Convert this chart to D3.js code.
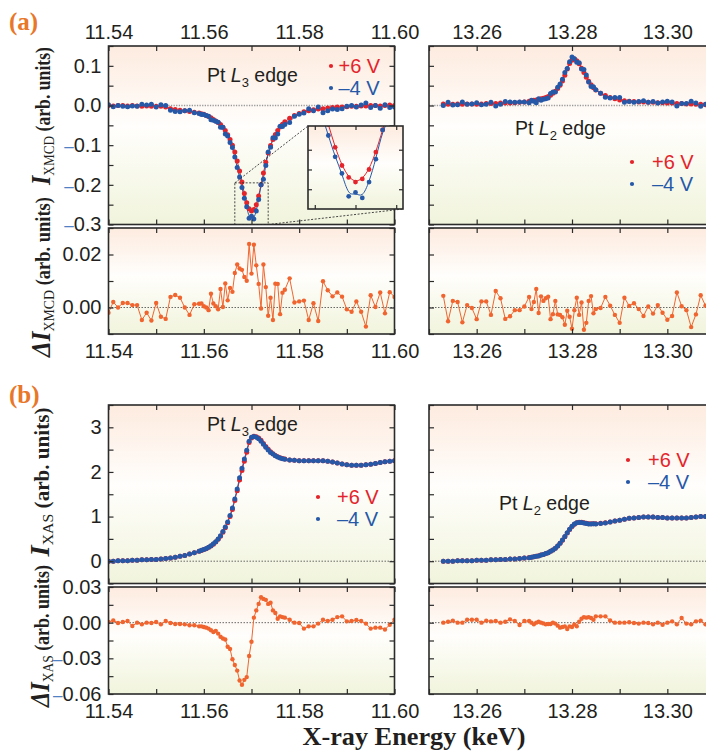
<!DOCTYPE html>
<html>
<head>
<meta charset="utf-8">
<script src="https://cdn.jsdelivr.net/npm/d3@7"></script>
<style>
  body { margin: 0; background: #fff; overflow: hidden; }
  svg { display: block; }
</style>
</head>
<body>
<script>
// ---- data ----
// energy grids (keV), shared by XMCD / XAS / difference series
const energyL3 = [11.540,11.541,11.542,11.543,11.544,11.545,11.546,11.547,11.548,11.549,11.550,11.551,11.552,11.553,11.554,11.555,11.556,11.557,11.558,11.559,
  11.5595,11.560,11.5605,11.561,11.5615,11.562,11.5625,11.563,11.5635,11.564,11.5645,11.565,11.5655,11.566,11.5665,11.567,11.5675,11.568,11.5685,11.569,
  11.5695,11.570,11.5705,11.571,11.5715,11.572,11.5725,11.573,11.5735,11.574,11.5745,11.575,11.5755,11.576,11.5765,11.577,
  11.578,11.579,11.580,11.581,11.582,11.583,11.584,11.585,11.586,11.587,11.588,11.589,11.590,11.591,11.592,11.593,11.594,11.595,11.596,11.597,11.598,11.599,11.600];
const energyL2 = [13.253,13.254,13.255,13.256,13.257,13.258,13.259,13.260,13.261,13.262,13.263,13.264,13.265,13.266,13.267,13.268,13.269,13.270,
  13.271,13.2715,13.272,13.2725,13.273,13.2735,13.274,13.2745,13.275,13.2755,13.276,13.2765,13.277,13.2775,13.278,13.2785,13.279,13.2795,13.280,13.2805,
  13.281,13.2815,13.282,13.2825,13.283,13.2835,13.284,13.2845,13.285,
  13.286,13.287,13.288,13.289,13.290,13.291,13.292,13.293,13.294,13.295,13.296,13.297,13.298,13.299,13.300,13.301,13.302,13.303,13.304,13.305,13.306,13.307,13.308];

// (a) XMCD, L3 edge
const xmcdL3Plus6 = [0.000,-0.001,0.000,0.000,-0.001,0.000,-0.001,-0.002,-0.001,-0.002,-0.002,-0.002,-0.004,-0.008,-0.010,-0.012,-0.013,-0.015,-0.017,-0.019,
  -0.021,-0.022,-0.025,-0.028,-0.031,-0.035,-0.039,-0.043,-0.048,-0.055,-0.063,-0.074,-0.086,-0.100,-0.117,-0.140,-0.165,-0.193,-0.222,-0.245,
  -0.260,-0.266,-0.262,-0.250,-0.228,-0.200,-0.170,-0.143,-0.120,-0.101,-0.086,-0.073,-0.063,-0.054,-0.047,-0.041,
  -0.032,-0.025,-0.020,-0.016,-0.013,-0.011,-0.009,-0.008,-0.006,-0.005,-0.004,-0.004,-0.003,-0.002,-0.002,-0.001,-0.001,0.000,0.000,-0.001,0.000,0.001,0.000];
const xmcdL3Minus4 = [0.002,-0.003,0.000,-0.002,-0.003,-0.001,-0.002,0.003,0.001,0.003,-0.004,0.002,0.000,-0.012,-0.015,-0.016,-0.013,-0.012,-0.018,-0.020,
  -0.023,-0.023,-0.025,-0.027,-0.036,-0.037,-0.040,-0.042,-0.055,-0.055,-0.072,-0.077,-0.093,-0.106,-0.130,-0.156,-0.180,-0.207,-0.234,-0.255,
  -0.284,-0.279,-0.286,-0.266,-0.237,-0.200,-0.186,-0.151,-0.117,-0.105,-0.081,-0.082,-0.072,-0.052,-0.053,-0.048,
  -0.043,-0.027,-0.022,-0.019,-0.008,-0.013,-0.004,-0.018,-0.013,-0.009,-0.010,-0.008,-0.002,0.000,-0.004,0.001,0.006,-0.005,0.000,-0.007,0.002,-0.005,-0.004];
const dXmcdL3 = [-0.0020,0.0021,0.0000,0.0017,0.0017,0.0009,0.0009,-0.0047,-0.0020,-0.0049,0.0017,-0.0035,-0.0043,0.0040,0.0047,0.0037,0.0000,-0.0028,0.0012,0.0014,
  0.0015,0.0005,0.0000,-0.0010,0.0052,0.0015,0.0005,-0.0007,0.0070,0.0002,0.0091,0.0027,0.0074,0.0059,0.0130,0.0162,0.0147,0.0142,0.0115,0.0101,
  0.0240,0.0128,0.0237,0.0159,0.0089,-0.0004,0.0162,0.0077,-0.0031,0.0037,-0.0047,0.0090,0.0089,-0.0025,0.0056,0.0067,
  0.0110,0.0019,0.0023,0.0026,-0.0047,0.0016,-0.0051,0.0099,0.0065,0.0042,0.0057,0.0041,-0.0007,-0.0016,0.0023,-0.0016,-0.0072,0.0046,0.0002,0.0057,-0.0022,0.0058,0.0040];

// (a) XMCD, L2 edge
const xmcdL2Plus6 = [0.004,0.003,0.003,0.004,0.003,0.004,0.004,0.003,0.004,0.005,0.005,0.005,0.006,0.006,0.006,0.007,0.008,0.009,
  0.011,0.012,0.013,0.014,0.015,0.017,0.018,0.020,0.023,0.026,0.031,0.036,0.043,0.051,0.062,0.076,0.092,0.106,0.114,0.117,0.113,0.105,0.094,0.083,0.071,0.061,0.052,0.045,0.039,
  0.031,0.025,0.020,0.017,0.014,0.012,0.011,0.010,0.009,0.009,0.008,0.008,0.007,0.007,0.006,0.006,0.005,0.005,0.004,0.004,0.003,0.003,0.002];
const xmcdL2Minus4 = [0.000,0.008,0.001,0.002,0.009,0.003,0.004,0.007,0.002,0.003,0.008,-0.001,0.003,0.010,0.009,0.008,0.009,0.009,
  0.007,0.013,0.011,0.007,0.017,0.013,0.016,0.017,0.019,0.030,0.034,0.034,0.046,0.054,0.066,0.083,0.093,0.110,0.122,0.118,0.109,0.108,0.092,0.091,0.077,0.059,0.048,0.047,0.040,
  0.031,0.021,0.019,0.020,0.020,0.008,0.010,0.008,0.010,0.012,0.008,0.010,0.006,0.009,0.011,0.009,-0.001,0.005,0.005,0.011,0.006,-0.002,0.003];
const dXmcdL2 = [0.0044,-0.0052,0.0025,0.0021,-0.0056,0.0009,-0.0002,-0.0044,0.0023,0.0023,-0.0028,0.0062,0.0035,-0.0043,-0.0033,-0.0010,-0.0010,0.0004,
  0.0040,-0.0006,0.0021,0.0070,-0.0021,0.0042,0.0025,0.0035,0.0041,-0.0044,-0.0025,0.0025,-0.0026,-0.0028,-0.0037,-0.0065,-0.0012,-0.0035,-0.0080,-0.0010,0.0037,-0.0028,0.0019,-0.0084,-0.0058,0.0025,0.0043,-0.0022,-0.0006,
  -0.0002,0.0040,0.0007,-0.0028,-0.0058,0.0037,0.0006,0.0016,-0.0006,-0.0032,0.0004,-0.0023,0.0009,-0.0020,-0.0046,-0.0032,0.0057,0.0005,-0.0010,-0.0074,-0.0026,0.0046,0.0007];

// (b) XAS, L3 edge
const xasL3Plus6 = [0.00,0.00,0.01,0.01,0.01,0.02,0.02,0.03,0.03,0.04,0.04,0.05,0.06,0.07,0.09,0.11,0.13,0.16,0.19,0.22,
  0.24,0.26,0.28,0.31,0.34,0.38,0.43,0.49,0.56,0.65,0.75,0.86,1.00,1.16,1.36,1.58,1.82,2.03,2.24,2.44,
  2.66,2.76,2.80,2.79,2.76,2.71,2.64,2.57,2.51,2.45,2.41,2.37,2.34,2.32,2.30,2.29,
  2.27,2.26,2.25,2.25,2.25,2.25,2.25,2.25,2.24,2.22,2.20,2.18,2.16,2.15,2.15,2.15,2.16,2.17,2.19,2.21,2.23,2.24,2.25];
const xasL3Minus4 = [0.00,0.00,0.01,0.01,0.01,0.02,0.02,0.03,0.03,0.04,0.04,0.05,0.06,0.07,0.09,0.11,0.13,0.16,0.19,0.22,
  0.243,0.264,0.284,0.315,0.346,0.388,0.437,0.499,0.572,0.663,0.764,0.880,1.022,1.191,1.396,1.620,1.869,2.082,2.288,2.486,
  2.688,2.776,2.796,2.780,2.744,2.689,2.620,2.551,2.494,2.433,2.400,2.362,2.337,2.315,2.295,2.286,
  2.27,2.26,2.25,2.25,2.25,2.25,2.25,2.25,2.24,2.22,2.20,2.18,2.16,2.15,2.15,2.15,2.16,2.17,2.19,2.21,2.23,2.24,2.25];
const dXasL3 = [0.0005,0.0019,-0.0003,0.0006,0.0014,-0.0028,0.0000,-0.0014,0.0000,-0.0003,0.0006,-0.0014,0.0014,-0.0003,-0.0011,-0.0011,-0.0014,-0.0022,-0.0022,-0.0031,
  -0.0031,-0.0036,-0.0042,-0.0050,-0.0064,-0.0078,-0.0069,-0.0092,-0.0119,-0.0133,-0.0142,-0.0203,-0.0222,-0.0308,-0.0356,-0.0403,-0.0486,-0.0522,-0.0481,-0.0458,
  -0.0281,-0.0161,0.0042,0.0103,0.0158,0.0214,0.0200,0.0192,0.0158,0.0167,0.0103,0.0081,0.0033,0.0053,0.0047,0.0042,
  0.0025,0.0000,-0.0003,-0.0050,-0.0031,-0.0031,-0.0008,0.0025,0.0014,0.0025,0.0047,0.0053,0.0011,0.0014,0.0022,0.0014,-0.0008,-0.0050,-0.0042,-0.0042,-0.0058,-0.0017,0.0025];

// (b) XAS, L2 edge
const xasL2Plus6 = [0.00,0.00,0.00,0.01,0.01,0.01,0.01,0.02,0.02,0.02,0.03,0.03,0.04,0.04,0.05,0.05,0.06,0.07,
  0.08,0.09,0.10,0.11,0.12,0.14,0.15,0.17,0.19,0.22,0.25,0.29,0.34,0.40,0.47,0.55,0.63,0.71,0.78,0.83,0.86,0.87,0.87,0.86,0.85,0.84,0.84,0.84,0.84,
  0.85,0.86,0.88,0.90,0.92,0.94,0.96,0.97,0.98,0.99,0.99,0.99,0.98,0.98,0.97,0.97,0.97,0.97,0.97,0.98,0.99,1.00,1.00];
const xasL2Minus4 = [0.00,0.00,0.00,0.01,0.01,0.01,0.01,0.02,0.02,0.02,0.03,0.03,0.04,0.04,0.05,0.05,0.06,0.07,
  0.079,0.090,0.101,0.110,0.119,0.140,0.151,0.171,0.191,0.221,0.250,0.291,0.343,0.404,0.474,0.553,0.635,0.713,0.784,0.831,0.863,0.869,0.867,0.855,0.846,0.835,0.836,0.838,0.835,
  0.845,0.855,0.878,0.90,0.92,0.94,0.96,0.97,0.98,0.99,0.99,0.99,0.98,0.98,0.97,0.97,0.97,0.97,0.97,0.98,0.99,1.00,1.00];
const dXasL2 = [0.0000,0.0008,0.0017,0.0000,0.0000,0.0025,0.0025,0.0025,0.0000,0.0017,0.0011,0.0014,0.0000,0.0008,0.0028,0.0014,-0.0019,0.0014,
  0.0014,0.0000,-0.0014,0.0000,0.0008,0.0000,-0.0006,-0.0014,-0.0011,-0.0011,0.0000,-0.0008,-0.0025,-0.0042,-0.0036,-0.0031,-0.0053,-0.0031,-0.0036,-0.0014,-0.0031,0.0008,0.0033,0.0047,0.0042,0.0047,0.0039,0.0025,0.0053,
  0.0053,0.0053,0.0019,0.0000,0.0000,0.0000,0.0003,-0.0003,-0.0008,0.0000,-0.0003,-0.0014,0.0000,-0.0017,0.0000,0.0011,-0.0014,0.0039,-0.0008,-0.0014,0.0011,0.0017,-0.0014];

// axis ranges and ticks
const l3Range = [11.54, 11.60], l2Range = [13.25, 13.31];
const l3Ticks = [11.54, 11.55, 11.56, 11.57, 11.58, 11.59, 11.60];
const l3Labels = [11.54, 11.56, 11.58, 11.60];
const l2Ticks = [13.25, 13.26, 13.27, 13.28, 13.29, 13.30, 13.31];
const l2Labels = [13.26, 13.28, 13.30];
const xmcdRange = [-0.3, 0.15];
const xmcdTicks = [-0.3, -0.25, -0.2, -0.15, -0.1, -0.05, 0, 0.05, 0.1, 0.15];
const xmcdLabels = [-0.3, -0.2, -0.1, 0, 0.1];
const dXmcdRange = [-0.01, 0.03];
const dXmcdTicks = [-0.01, 0, 0.01, 0.02, 0.03];
const dXmcdLabels = [0, 0.02];
const xasRange = [-0.5, 3.5];
const xasTicks = [-0.5, 0, 0.5, 1, 1.5, 2, 2.5, 3, 3.5];
const xasLabels = [0, 1, 2, 3];
const dXasRange = [-0.06, 0.03];
const dXasTicks = [-0.06, -0.045, -0.03, -0.015, 0, 0.015, 0.03];
const dXasLabels = [-0.06, -0.03, 0, 0.03];
// zoomed window of the inset (energy, XMCD)
const insetEnergy = [11.5665, 11.5735];
const insetXmcd = [-0.3, -0.195];
const insetXTicks = [11.567, 11.570, 11.573];
const insetYTicks = [-0.275, -0.25, -0.225];

const seriesLabels = ["+6 V", "\u20134 V"];

// ---- drawing ----
const W = 706, H = 751;
const red = "#e3242b", blue = "#2658a8", orange = "#f0652f", ink = "#231f20", minusBlue = "#4f81c4", frameCol = "#2b2b2b";
const sans = "'Liberation Sans', Arial, sans-serif";
const serif = "'Liberation Serif', 'Times New Roman', serif";

const svg = d3.select("body").append("svg").attr("width", W).attr("height", H);
const defs = svg.append("defs");
const bg = defs.append("linearGradient").attr("id", "bg")
  .attr("x1", 0).attr("y1", 0).attr("x2", 0).attr("y2", 1);
[[0, "#fdebdf"], [0.45, "#fffefc"], [1, "#f1f4dc"]].forEach(([o, c]) =>
  bg.append("stop").attr("offset", o).attr("stop-color", c));

// column / row layout
const colL = 108.5, colR = 429, colW = 286;
const rowA1 = [46, 178.5], rowA2 = [228, 106], rowB1 = [405, 178.5], rowB2 = [587, 107];

let clipCount = 0;
function panel(left, row, w, xDom, yDom, xT, yT, tickLen = 5) {
  const [top, h] = row;
  const g = svg.append("g").attr("transform", `translate(${left},${top})`);
  const x = d3.scaleLinear().domain(xDom).range([0, w]);
  const y = d3.scaleLinear().domain(yDom).range([h, 0]);
  g.append("rect").attr("width", w).attr("height", h).attr("fill", "url(#bg)");
  const id = "clip" + (clipCount++);
  defs.append("clipPath").attr("id", id).append("rect").attr("width", w).attr("height", h);
  const plot = g.append("g").attr("clip-path", `url(#${id})`);
  const frame = g.append("g");
  const tk = (axis, tr) => {
    const a = frame.append("g").attr("transform", tr)
      .call(axis.tickSize(-tickLen).tickFormat(""));
    a.select(".domain").remove();
    a.selectAll("line").attr("stroke", frameCol).attr("stroke-width", 1.2);
  };
  tk(d3.axisTop(x).tickValues(xT), null);
  tk(d3.axisBottom(x).tickValues(xT), `translate(0,${h})`);
  tk(d3.axisLeft(y).tickValues(yT), null);
  tk(d3.axisRight(y).tickValues(yT), `translate(${w},0)`);
  frame.append("rect").attr("width", w).attr("height", h)
    .attr("fill", "none").attr("stroke", frameCol).attr("stroke-width", 1.6);
  return { g, plot, x, y, w, h, top, left };
}

function zeroLine(p, light) {
  p.plot.append("line")
    .attr("x1", 0).attr("x2", p.w).attr("y1", p.y(0)).attr("y2", p.y(0))
    .attr("stroke", light ? "#9a9a9a" : "#444")
    .attr("stroke-width", light ? 1.4 : 0.8)
    .attr("stroke-dasharray", light ? "1.3,1.3" : "1.5,1.5");
}

const pairs = (xs, ys) => xs.map((e, i) => [e, ys[i]]);

function curve(p, data, color, smooth, width) {
  p.plot.append("path").datum(data)
    .attr("fill", "none").attr("stroke", color).attr("stroke-width", width)
    .attr("d", d3.line().x(d => p.x(d[0])).y(d => p.y(d[1]))
      .curve(smooth ? d3.curveBasis : d3.curveLinear));
}
function dots(p, data, color, r) {
  p.plot.append("g").selectAll("circle").data(data).join("circle")
    .attr("cx", d => p.x(d[0])).attr("cy", d => p.y(d[1]))
    .attr("r", r).attr("fill", color);
}

function xLabels(p, vals, side, pad) {
  const axis = side === "top" ? d3.axisTop(p.x) : d3.axisBottom(p.x);
  const a = p.g.append("g").attr("transform", side === "top" ? null : `translate(0,${p.h})`)
    .call(axis.tickValues(vals).tickSize(0).tickPadding(pad).tickFormat(d3.format(".2f")));
  a.select(".domain").remove();
  a.attr("font-family", sans).attr("font-size", 20);
  a.selectAll("text").attr("fill", ink);
}
function yLabels(p, vals, fmt) {
  const a = p.g.append("g")
    .call(d3.axisLeft(p.y).tickValues(vals).tickSize(0).tickPadding(7).tickFormat(""));
  a.select(".domain").remove();
  a.attr("font-family", sans).attr("font-size", 20);
  a.selectAll(".tick text").attr("fill", ink).each(function (d) {
    const t = d3.select(this);
    if (d < 0) t.append("tspan").attr("fill", minusBlue).attr("font-size", 17).text("\u2013");
    t.append("tspan").text(fmt(Math.abs(d)));
  });
}

function edgeLabel(p, x, y, n) {
  const t = p.g.append("text").attr("x", x).attr("y", y)
    .attr("font-family", sans).attr("font-size", 19.5).attr("fill", ink);
  t.append("tspan").text("Pt ");
  t.append("tspan").attr("font-style", "italic").text("L");
  t.append("tspan").attr("font-size", 13).attr("dy", 5).text(n);
  t.append("tspan").attr("dy", -5).text(" edge");
}
function legend(p, x, y, gap) {
  [red, blue].forEach((c, i) => {
    p.g.append("circle").attr("cx", x).attr("cy", y + i * 22).attr("r", 2.1).attr("fill", c);
    p.g.append("text").attr("x", x + gap).attr("y", y + i * 22 + 7)
      .attr("font-family", sans).attr("font-size", 20).attr("fill", c).text(seriesLabels[i]);
  });
}

function yTitle(parts, cx, cy, target) {
  const g = svg.append("g").attr("transform", `translate(${cx},${cy}) rotate(-90)`);
  const t = g.append("text").attr("text-anchor", "middle")
    .attr("font-family", serif).attr("font-weight", "bold").attr("fill", ink);
  parts.forEach(p => {
    t.append("tspan").text(p.t).attr("font-size", p.s)
      .attr("font-style", p.i ? "italic" : null)
      .attr("font-weight", p.w || null)
      .attr("dy", p.dy || null);
  });
  const len = t.node().getComputedTextLength();
  t.attr("transform", `scale(${target / len},1)`);
}

// ---------- (a) XMCD ----------
const a1 = panel(colL, rowA1, colW, l3Range, xmcdRange, l3Ticks, xmcdTicks);
zeroLine(a1, true);
const l3p = pairs(energyL3, xmcdL3Plus6), l3m = pairs(energyL3, xmcdL3Minus4);
curve(a1, l3p, red, true, 1);
curve(a1, l3m, blue, true, 1);
dots(a1, l3p, red, 2.5);
dots(a1, l3m, blue, 2.5);
xLabels(a1, l3Labels, "top", 7);
yLabels(a1, xmcdLabels, d3.format(".1f"));
edgeLabel(a1, 98.5, 36, "3");
legend(a1, 222.5, 20, 7.5);

// dashed zoom box and connectors
const bx0 = colL + a1.x(insetEnergy[0]), bx1 = colL + a1.x(insetEnergy[1]);
const by0 = a1.top + a1.y(insetXmcd[1]), by1 = a1.top + a1.y(insetXmcd[0]);
const ix0 = 308, iy0 = 126, iw = 95, ih = 83;
const dash = { stroke: "#333", "stroke-width": 0.9, "stroke-dasharray": "2,1.6", fill: "none" };
const box = svg.append("rect").attr("x", bx0).attr("y", by0).attr("width", bx1 - bx0).attr("height", by1 - by0);
const c1 = svg.append("line").attr("x1", bx0).attr("y1", by0).attr("x2", ix0).attr("y2", iy0);
const c2 = svg.append("line").attr("x1", bx1).attr("y1", by1).attr("x2", ix0 + iw).attr("y2", iy0 + ih);
[box, c1, c2].forEach(s => Object.entries(dash).forEach(([k, v]) => s.attr(k, v)));

// inset
const ins = panel(ix0, [iy0, ih], iw, insetEnergy, insetXmcd, insetXTicks, insetYTicks, 4);
curve(ins, l3p, red, true, 1);
curve(ins, l3m, blue, true, 1);
dots(ins, l3p, red, 2.4);
dots(ins, l3m, blue, 2.4);

const a2 = panel(colL, rowA2, colW, l3Range, dXmcdRange, l3Ticks, dXmcdTicks);
zeroLine(a2, false);
const dl3 = pairs(energyL3, dXmcdL3);
curve(a2, dl3, orange, false, 1);
dots(a2, dl3, orange, 2.2);
xLabels(a2, l3Labels, "bottom", 9.5);
yLabels(a2, dXmcdLabels, d3.format(".2f"));

const a3 = panel(colR, rowA1, colW, l2Range, xmcdRange, l2Ticks, xmcdTicks);
zeroLine(a3, true);
const l2p = pairs(energyL2, xmcdL2Plus6), l2m = pairs(energyL2, xmcdL2Minus4);
curve(a3, l2p, red, true, 1);
curve(a3, l2m, blue, true, 1);
dots(a3, l2p, red, 2.5);
dots(a3, l2m, blue, 2.5);
xLabels(a3, l2Labels, "top", 7);
edgeLabel(a3, 86, 89, "2");
legend(a3, 203, 116, 20);

const a4 = panel(colR, rowA2, colW, l2Range, dXmcdRange, l2Ticks, dXmcdTicks);
zeroLine(a4, false);
const dl2 = pairs(energyL2, dXmcdL2);
curve(a4, dl2, orange, false, 1);
dots(a4, dl2, orange, 2.2);
xLabels(a4, l2Labels, "bottom", 9.5);

// ---------- (b) XAS ----------
const b1 = panel(colL, rowB1, colW, l3Range, xasRange, l3Ticks, xasTicks);
zeroLine(b1, false);
const x3p = pairs(energyL3, xasL3Plus6), x3m = pairs(energyL3, xasL3Minus4);
curve(b1, x3p, red, true, 1);
curve(b1, x3m, blue, true, 1);
dots(b1, x3p, red, 2.5);
dots(b1, x3m, blue, 2.5);
yLabels(b1, xasLabels, d3.format("d"));
edgeLabel(b1, 98.5, 26, "3");
legend(b1, 209.5, 92, 19);

const b2 = panel(colL, rowB2, colW, l3Range, dXasRange, l3Ticks, dXasTicks);
zeroLine(b2, false);
const dx3 = pairs(energyL3, dXasL3);
curve(b2, dx3, orange, false, 1);
dots(b2, dx3, orange, 2.2);
xLabels(b2, l3Labels, "bottom", 9.5);
yLabels(b2, dXasLabels, d3.format(".2f"));

const b3 = panel(colR, rowB1, colW, l2Range, xasRange, l2Ticks, xasTicks);
zeroLine(b3, false);
const x2p = pairs(energyL2, xasL2Plus6), x2m = pairs(energyL2, xasL2Minus4);
curve(b3, x2p, red, true, 1);
curve(b3, x2m, blue, true, 1);
dots(b3, x2p, red, 2.5);
dots(b3, x2m, blue, 2.5);
edgeLabel(b3, 70, 105, "2");
legend(b3, 199, 55, 20);

const b4 = panel(colR, rowB2, colW, l2Range, dXasRange, l2Ticks, dXasTicks);
zeroLine(b4, false);
const dx2 = pairs(energyL2, dXasL2);
curve(b4, dx2, orange, false, 1);
dots(b4, dx2, orange, 2.2);
xLabels(b4, l2Labels, "bottom", 9.5);

// ---------- titles ----------
yTitle([{ t: "I", s: 27, i: true }, { t: "XMCD", s: 15, w: "normal", dy: 4 }, { t: " (arb. units)", s: 20, dy: -4 }], 50, 116, 138);
yTitle([{ t: "\u0394I", s: 27, i: true }, { t: "XMCD", s: 15, w: "normal", dy: 4 }, { t: " (arb. units)", s: 20, dy: -4 }], 50, 277, 160);
yTitle([{ t: "I", s: 27, i: true }, { t: "XAS", s: 15, w: "normal", dy: 4 }, { t: " (arb. units)", s: 20, dy: -4 }], 48.5, 482, 149);
yTitle([{ t: "\u0394I", s: 27, i: true }, { t: "XAS", s: 15, w: "normal", dy: 4 }, { t: " (arb. units)", s: 20, dy: -4 }], 48.5, 636, 142);

svg.append("g").attr("transform", "translate(414,745.2) scale(1.03,1)")
  .append("text").attr("text-anchor", "middle")
  .attr("font-family", serif).attr("font-weight", "bold").attr("font-size", 25.5)
  .attr("fill", ink).text("X-ray Energy (keV)");

[["(a)", 30], ["(b)", 403]].forEach(([lab, y]) =>
  svg.append("text").attr("x", 9).attr("y", y)
    .attr("font-family", serif).attr("font-weight", "bold").attr("font-size", 25)
    .attr("fill", "#e8772a").text(lab));
</script>
</body>
</html>
